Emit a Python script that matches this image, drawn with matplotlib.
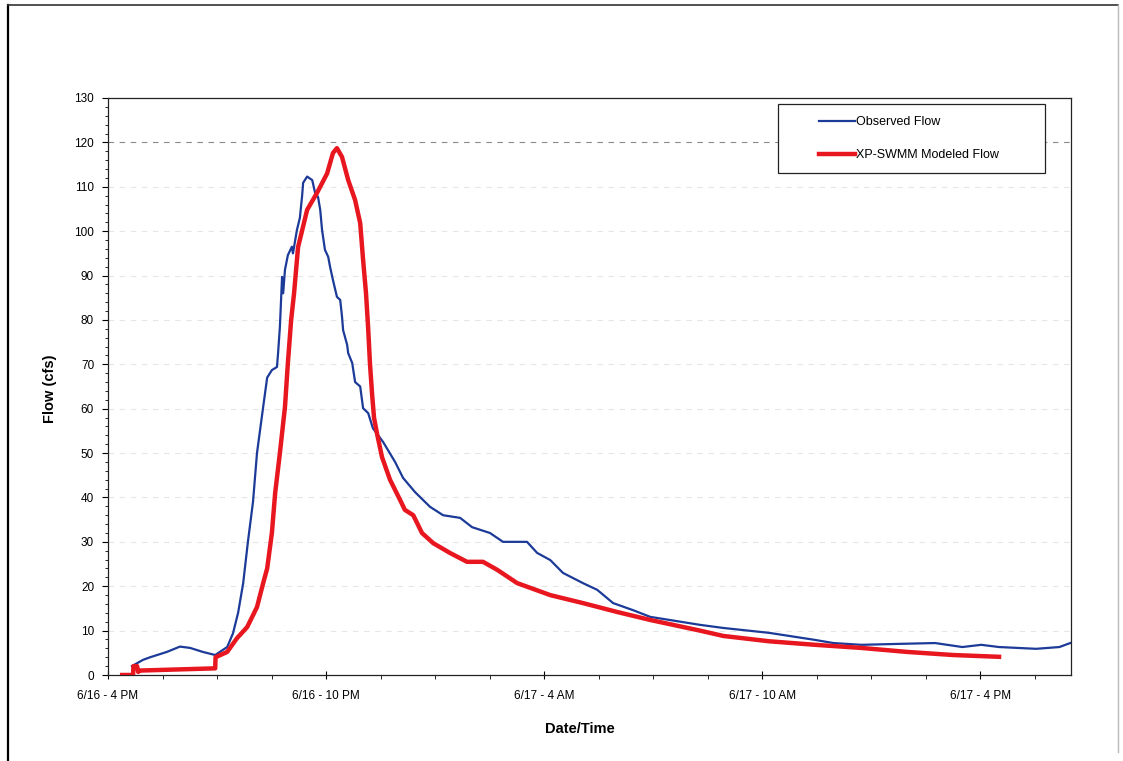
import matplotlib
matplotlib.use("Agg")
import matplotlib.pyplot as plt
from matplotlib.ticker import MultipleLocator, FixedLocator, FixedFormatter
from matplotlib.patches import Rectangle
from matplotlib.lines import Line2D

plt.rcParams['font.family'] = ['Liberation Sans', 'DejaVu Sans']

# hours after 6/16 4 PM
obs_hours = [0.66, 0.96, 1.16, 1.62, 1.98, 2.26, 2.61, 2.95, 3.28, 3.44, 3.58, 3.72, 3.85,
             3.99, 4.10, 4.27, 4.38, 4.51, 4.65, 4.68, 4.73, 4.79, 4.82, 4.87, 4.95, 5.06,
             5.09, 5.20, 5.28, 5.34, 5.37, 5.48, 5.62, 5.70, 5.78, 5.84, 5.89, 5.97, 6.06,
             6.11, 6.19, 6.30, 6.39, 6.44, 6.47, 6.58, 6.61, 6.72, 6.80, 6.94, 7.02, 7.16,
             7.29, 7.57, 7.90, 8.12, 8.45, 8.86, 9.22, 9.69, 10.02, 10.51, 10.87, 11.53,
             11.81, 12.17, 12.52, 13.07, 13.46, 13.90, 14.45, 14.92, 16.29, 16.93, 18.19,
             19.46, 19.96, 20.73, 21.70, 22.76, 23.51, 24.03, 24.52, 25.54, 26.18, 26.48]
obs_flow = [2.0, 3.4, 4.0, 5.2, 6.4, 6.1, 5.2, 4.5, 6.3, 9.4, 14.0, 20.7, 30.0,
            39.0, 50.0, 60.4, 67.0, 68.7, 69.4, 72.5, 78.4, 89.7, 86.0, 91.3, 94.6, 96.5,
            95.0, 100.3, 103.0, 107.8, 110.9, 112.3, 111.5, 108.6, 107.7, 104.8, 100.3, 95.8, 94.2,
            92.0, 89.0, 85.2, 84.5, 80.7, 77.7, 74.4, 72.5, 70.3, 66.0, 65.0, 60.1, 59.0,
            55.6, 52.5, 48.0, 44.4, 41.2, 37.9, 36.0, 35.4, 33.3, 32.0, 30.0, 30.0,
            27.5, 25.9, 23.0, 20.7, 19.2, 16.2, 14.6, 13.1, 11.3, 10.6, 9.5,
            7.9, 7.2, 6.8, 7.0, 7.2, 6.3, 6.8, 6.3, 5.9, 6.3, 7.2]

mod_hours = [0.39, 0.69, 0.70, 0.80, 0.83, 0.88, 2.95, 2.96, 3.28, 3.55, 3.83, 4.10, 4.27,
             4.38, 4.51, 4.60, 4.73, 4.87, 4.95, 5.04, 5.12, 5.23, 5.48, 5.75, 6.03, 6.19,
             6.30, 6.44, 6.61, 6.80, 6.94, 7.02, 7.10, 7.16, 7.21, 7.27, 7.32, 7.40, 7.54,
             7.76, 8.04, 8.17, 8.40, 8.64, 8.95, 9.41, 9.88, 10.32, 10.71, 11.26, 12.17,
             13.07, 14.01, 14.92, 16.29, 16.93, 18.19, 19.46, 20.73, 21.99, 23.26, 24.52]
mod_flow = [0.0, 0.0, 2.0, 2.0, 0.7, 1.0, 1.5, 4.0, 5.2, 8.3, 10.8, 15.3, 20.7,
            24.0, 32.0, 41.0, 50.0, 60.4, 70.3, 80.0, 86.0, 96.4, 104.8, 108.6, 113.0, 117.6,
            118.7, 116.7, 111.5, 107.0, 101.8, 93.5, 86.0, 78.0, 70.0, 63.0, 58.0, 54.5, 49.1,
            44.0, 39.4, 37.2, 36.0, 32.0, 29.7, 27.5, 25.5, 25.5, 23.7, 20.7, 18.0,
            16.2, 14.2, 12.4, 10.0, 8.8, 7.6, 6.8, 6.1, 5.2, 4.5, 4.1]

tick_hours = [0, 6, 12, 18, 24]
tick_labels = ['6/16 - 4 PM', '6/16 - 10 PM', '6/17 - 4 AM', '6/17 - 10 AM', '6/17 - 4 PM']
series_names = ['Observed Flow', 'XP-SWMM Modeled Flow']

W, H = 1123, 761
fig = plt.figure(figsize=(W / 100, H / 100), dpi=100)
ax = fig.add_axes([108 / W, 1 - 675 / H, (1071 - 108) / W, (675 - 98) / H])

# page border of the scan
fig.add_artist(Line2D([8 / W, 8 / W], [0, 1 - 5 / H], color='black', lw=1.6, transform=fig.transFigure))
fig.add_artist(Line2D([8 / W, 1118 / W], [1 - 5 / H, 1 - 5 / H], color='#333333', lw=1.2, transform=fig.transFigure))
fig.add_artist(Line2D([1118 / W, 1118 / W], [1 - 5 / H, 1 - 752 / H], color='#bbbbbb', lw=1.0, transform=fig.transFigure))

# gridlines
for gv in range(10, 130, 10):
    col = '#8a8a8a' if gv == 120 else '#e6e6e6'
    ax.axhline(gv, color=col, lw=0.8, ls=(0, (5, 5)), zorder=1)

blue, = ax.plot(obs_hours, obs_flow, color='#1c3a98', lw=1.6, zorder=3, label=series_names[0])
red, = ax.plot(mod_hours, mod_flow, color='#e8161f', lw=3.2, zorder=3.5, label=series_names[1],
               solid_joinstyle='round')

ax.set_xlim(0, 26.5)
ax.set_ylim(0, 130)
ax.yaxis.set_major_locator(MultipleLocator(10))
ax.yaxis.set_minor_locator(MultipleLocator(2))
ax.xaxis.set_major_locator(FixedLocator(tick_hours))
ax.xaxis.set_major_formatter(FixedFormatter(tick_labels))
ax.xaxis.set_minor_locator(MultipleLocator(1.5))

ax.tick_params(axis='y', which='major', direction='out', length=4, width=0.8, pad=6, labelsize=8.5)
ax.tick_params(axis='y', which='minor', direction='out', length=2.5, width=0.6)
ax.tick_params(axis='x', which='major', direction='inout', length=6, width=0.8, pad=7.5, labelsize=8.5)
ax.tick_params(axis='x', which='minor', direction='out', length=3, width=0.6)
for sp in ax.spines.values():
    sp.set_linewidth(0.9)
    sp.set_color('#222222')

ax.set_xlabel('Date/Time', fontsize=10.5, fontweight='bold')
ax.xaxis.set_label_coords((580 - 108) / 963, -(722 - 675) / 577)
ax.set_ylabel('Flow (cfs)', fontsize=10.5, fontweight='bold')
ax.yaxis.set_label_coords(-(108 - 57) / 963, (675 - 389) / 577)

# legend box
box = Rectangle(((778 - 108) / 963, (675 - 173) / 577), (1045 - 778) / 963, (173 - 104) / 577,
                transform=ax.transAxes, facecolor='white', edgecolor='#222222', lw=0.9, zorder=4)
ax.add_patch(box)
leg = ax.legend(handles=[blue, red], loc='upper left', frameon=False,
                bbox_to_anchor=((819 - 108) / 963, (675 - 116) / 577),
                borderpad=0, borderaxespad=0, handlelength=2.9, handletextpad=0.1,
                labelspacing=1.7, fontsize=9)
leg.set_zorder(5)

fig.savefig('out.png', dpi=100, facecolor='white')
